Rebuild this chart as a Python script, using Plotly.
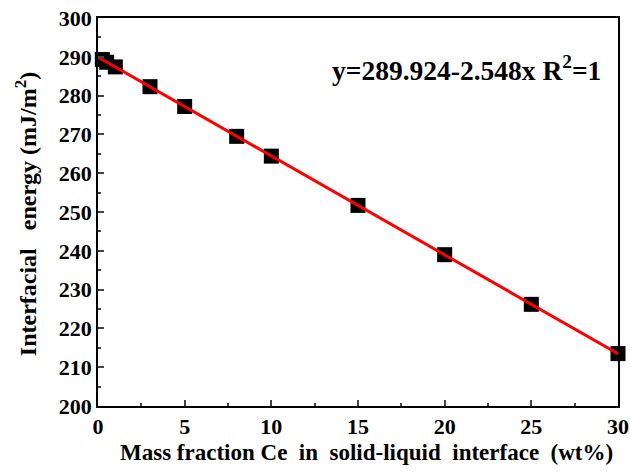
import plotly.graph_objects as go

x_vals = [0.25, 0.5, 1, 3, 5, 8, 10, 15, 20, 25, 30]
y_vals = [289.3, 288.6, 287.4, 282.3, 277.2, 269.5, 264.4, 251.7, 239.0, 226.2, 213.5]
fit_x = [0, 30]
fit_y = [289.924, 289.924 - 2.548 * 30]

font = "Liberation Serif"
fig = go.Figure()
fig.add_trace(go.Scatter(x=x_vals, y=y_vals, mode="markers",
                         marker=dict(symbol="square", size=15, color="black"),
                         cliponaxis=False, showlegend=False))
fig.add_trace(go.Scatter(x=fit_x, y=fit_y, mode="lines",
                         line=dict(color="red", width=3), showlegend=False))

fig.update_layout(
    width=630, height=471,
    margin=dict(l=98, r=12, t=18, b=65),
    plot_bgcolor="white", paper_bgcolor="white",
    font=dict(family=font, color="black", size=17),
    annotations=[
        dict(x=0.972, y=0.871, xref="paper", yref="paper", xanchor="right", yanchor="middle",
             text="<b>y=289.924-2.548x R<sup>2</sup>=1</b>", showarrow=False,
             font=dict(family=font, size=27.5, color="black")),
        dict(x=0.517, y=-0.121, xref="paper", yref="paper", xanchor="center", yanchor="middle",
             text="<b>Mass fraction Ce&nbsp; in&nbsp; solid-liquid&nbsp; interface&nbsp; (wt%)</b>",
             showarrow=False, font=dict(family=font, size=23, color="black")),
        dict(x=-0.138, y=0.495, xref="paper", yref="paper", xanchor="center", yanchor="middle",
             textangle=-90,
             text="<b>Interfacial&nbsp;&nbsp; energy (mJ/m<sup>2</sup>)</b>",
             showarrow=False, font=dict(family=font, size=24, color="black")),
    ]
)
fig.update_xaxes(range=[0, 30], dtick=5, ticks="inside", ticklen=6, tickwidth=1.5,
                 minor=dict(dtick=2.5, ticks="inside", ticklen=3, tickwidth=1.5),
                 showline=True, linewidth=1.5, linecolor="black", mirror=True,
                 showgrid=False, zeroline=False, automargin=False,
                 tickfont=dict(family=font, size=22, weight="bold"))
fig.update_yaxes(range=[200, 300], dtick=10, ticks="inside", ticklen=6, tickwidth=1.5,
                 minor=dict(dtick=5, ticks="inside", ticklen=3, tickwidth=1.5),
                 showline=True, linewidth=1.5, linecolor="black", mirror=True,
                 showgrid=False, zeroline=False, automargin=False,
                 tickfont=dict(family=font, size=22, weight="bold"))
fig.write_html("out.html", post_script="document.body.style.margin='0';",
               config={"displayModeBar": False})
